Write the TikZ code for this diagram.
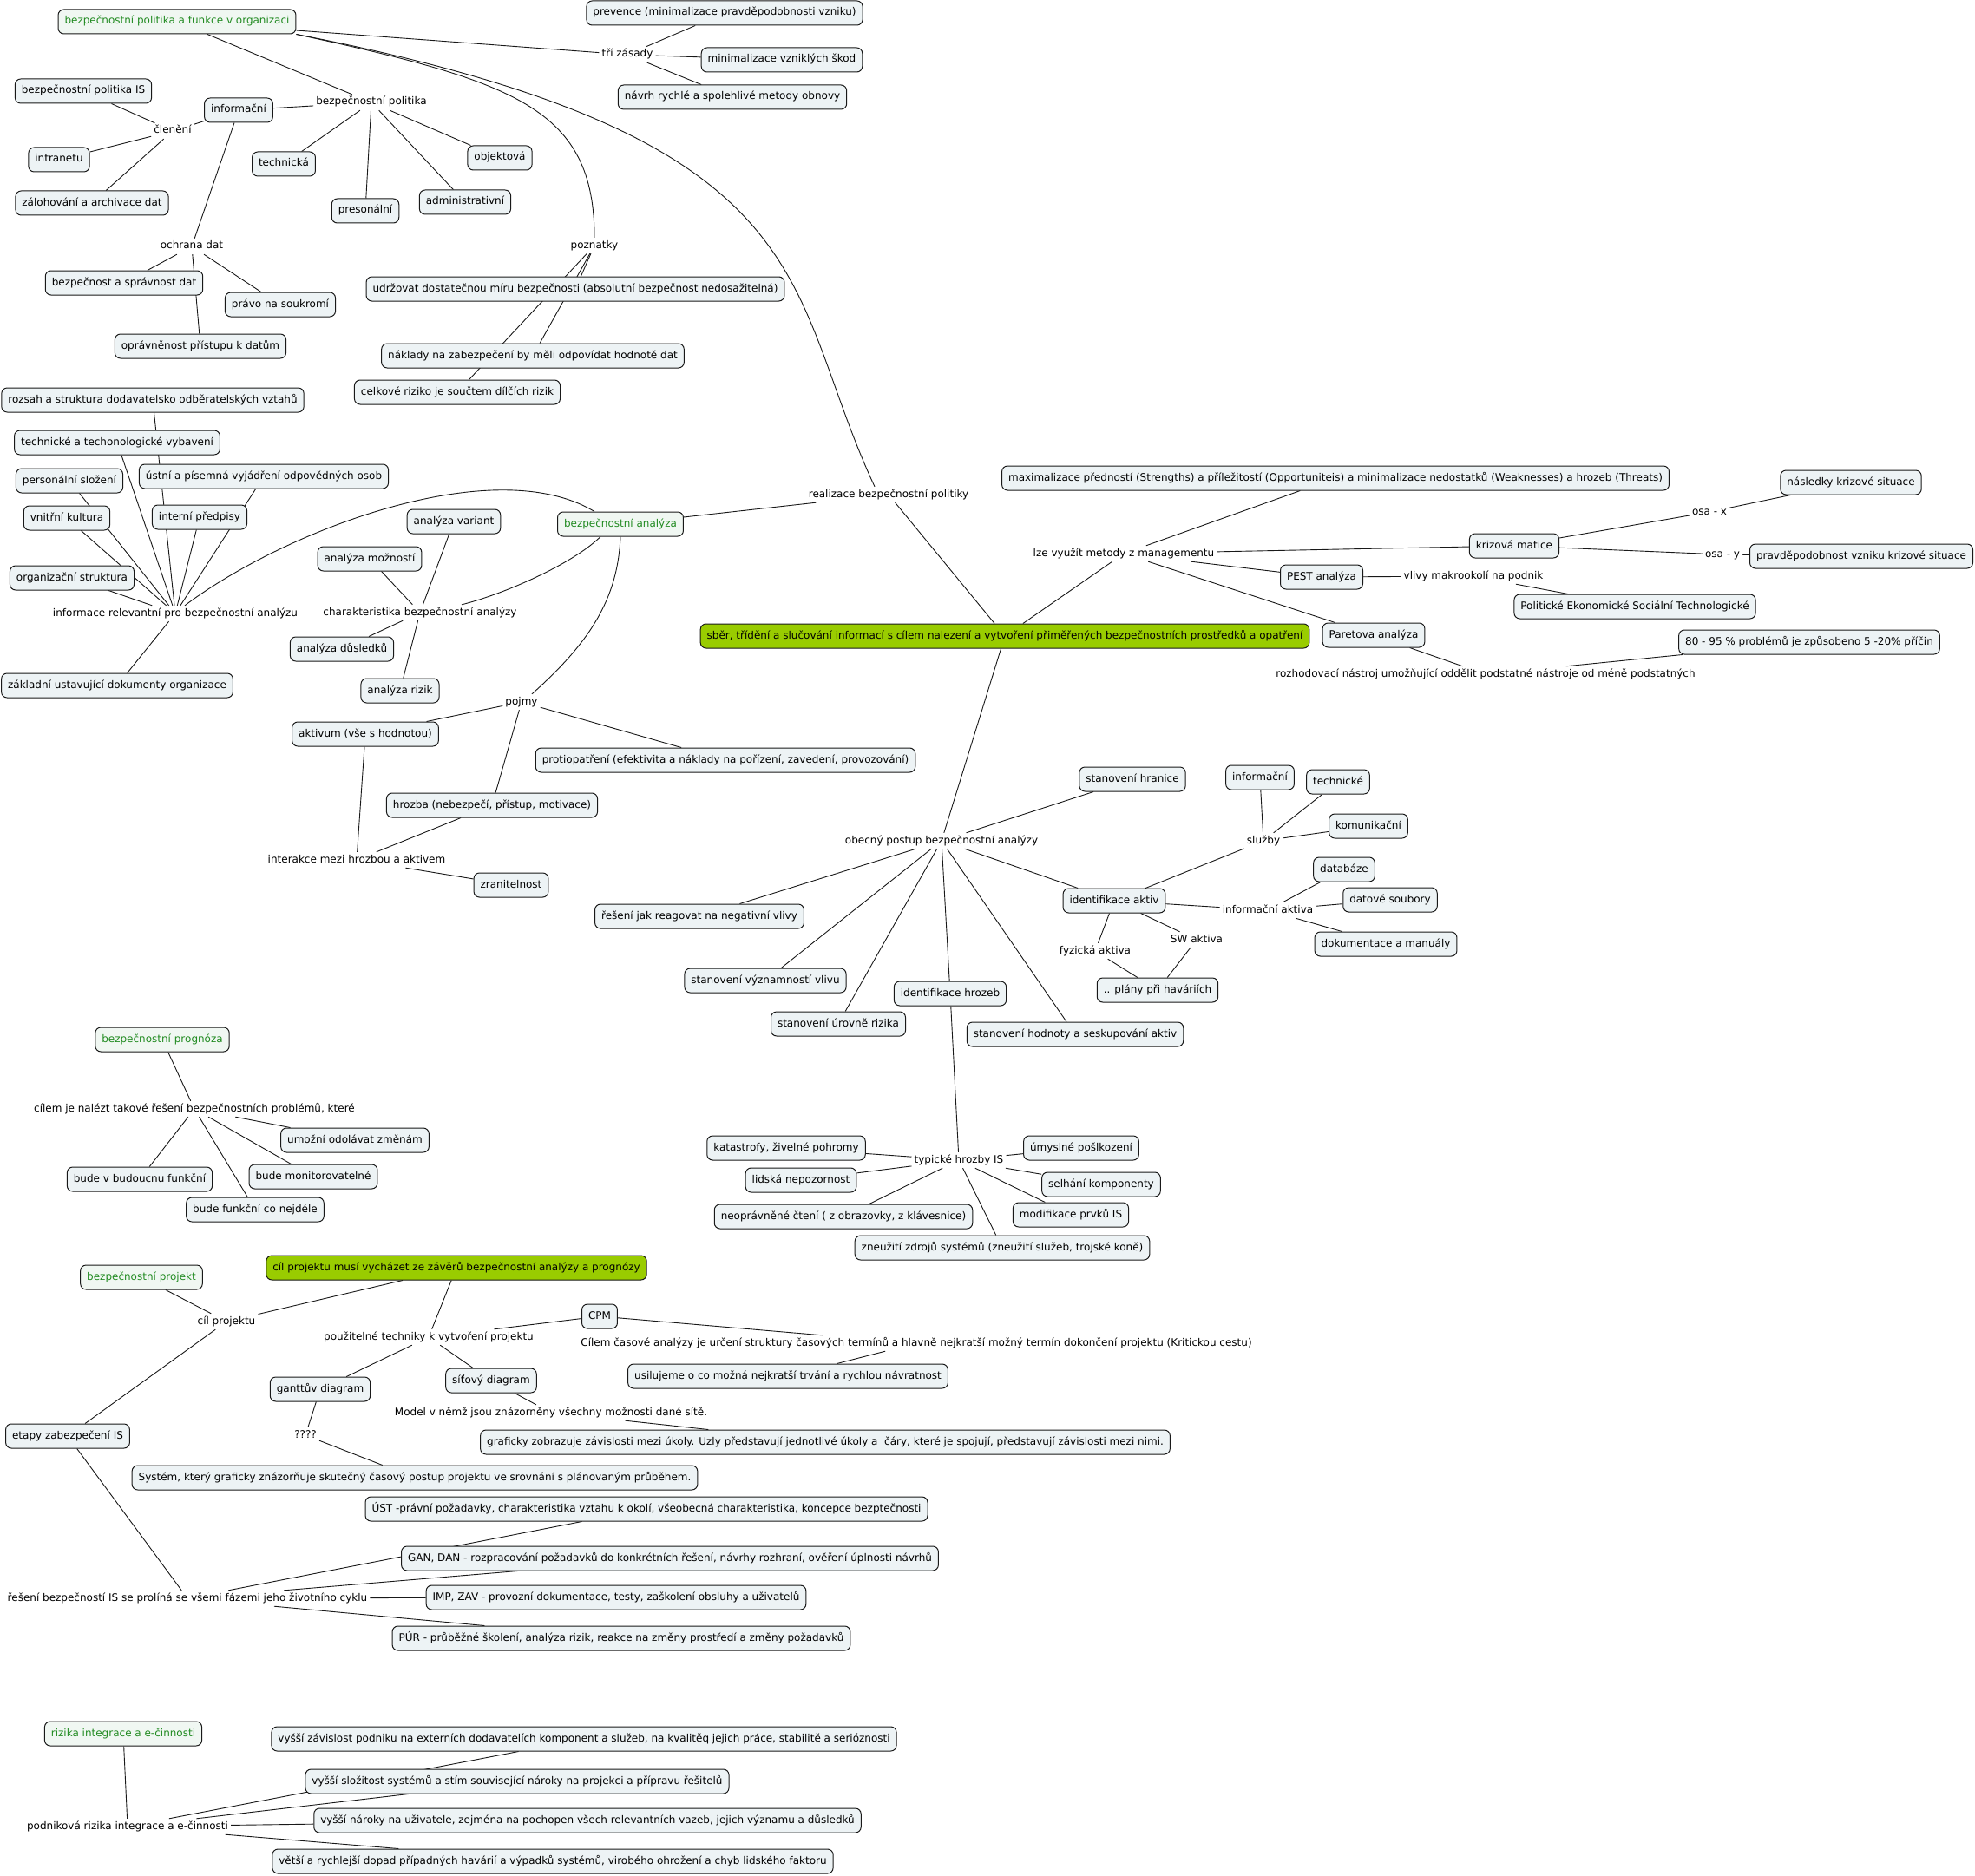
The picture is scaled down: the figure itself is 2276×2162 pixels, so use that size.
\documentclass[tikz,border=0pt]{standalone}
\usepackage{fontspec}
\setmainfont{DejaVu Sans}
\definecolor{boxfill}{RGB}{237,243,245}
\definecolor{rootfill}{RGB}{240,247,242}
\definecolor{rootgreen}{RGB}{34,139,34}
\definecolor{keygreen}{RGB}{153,204,0}
\definecolor{edgec}{RGB}{25,25,25}
\pgfdeclarelayer{bg}
\pgfsetlayers{bg,main}
\begin{document}
\begin{tikzpicture}[x=1pt,y=-1pt,
  every node/.style={font=\fontsize{12}{14}\selectfont, text height=9pt, text depth=3pt},
  box/.style={draw=edgec, line width=1pt, rounded corners=6.5pt, fill=boxfill, inner xsep=7.5pt, inner ysep=0pt, minimum height=28pt},
  rootbox/.style={box, fill=rootfill, text=rootgreen},
  keybox/.style={box, fill=keygreen},
  lbl/.style={inner xsep=3pt, inner ysep=3pt},
  conn/.style={draw=edgec, line width=0.9pt}]
\useasboundingbox (0,0) rectangle (2276,2162);

% ---------- cluster: bezpečnostní politika ----------
\node[rootbox] (root1) at (204,25) {bezpečnostní politika a funkce v organizaci};
\node[box] (polIS) at (96,105) {bezpečnostní politika IS};
\node[box] (info1) at (275,127) {informační};
\node[lbl] (bpol) at (428,118) {bezpečnostní politika};
\node[lbl] (clen) at (199,151) {členění};
\node[box] (intra) at (68,184) {intranetu};
\node[box] (zalo) at (106,234) {zálohování a archivace dat};
\node[box] (techn) at (327,189) {technická};
\node[box] (pres) at (421,243) {presonální};
\node[box] (admin) at (536,233) {administrativní};
\node[box] (objek) at (576,182) {objektová};
\node[lbl] (ochr) at (221,284) {ochrana dat};
\node[box] (bsprav) at (143,326) {bezpečnost a správnost dat};
\node[box] (pravo) at (323,351) {právo na soukromí};
\node[box] (oprav) at (231,399) {oprávněnost přístupu k datům};
\node[lbl] (pozn) at (685,283) {poznatky};
\node[box] (udrz) at (663,333) {udržovat dostatečnou míru bezpečnosti (absolutní bezpečnost nedosažitelná)};
\node[box] (nakl) at (614,410) {náklady na zabezpečení by měli odpovídat hodnotě dat};
\node[box] (celk) at (527,452) {celkové riziko je součtem dílčích rizik};
\node[box] (prev) at (835,15) {prevence (minimalizace pravděpodobnosti vzniku)};
\node[lbl] (tri) at (723,63) {tří zásady};
\node[box] (minim) at (901,69) {minimalizace vzniklých škod};
\node[box] (navrh) at (844,112) {návrh rychlé a spolehlivé metody obnovy};

% ---------- cluster: bezpečnostní analýza ----------
\node[box] (rozsah) at (176,461) {rozsah a struktura dodavatelsko odběratelských vztahů};
\node[box] (techvyb) at (135,510) {technické a techonologické vybavení};
\node[box] (perso) at (80,554) {personální složení};
\node[box] (ustni) at (304,549) {ústní a písemná vyjádření odpovědných osob};
\node[box] (vnitr) at (77,597) {vnitřní kultura};
\node[box] (intpred) at (230,596) {interní předpisy};
\node[box] (orgstr) at (83,666) {organizační struktura};
\node[lbl] (infrel) at (202,707) {informace relevantní pro bezpečnostní analýzu};
\node[box] (zaklad) at (135,790) {základní ustavující dokumenty organizace};
\node[lbl] (charak) at (484,706) {charakteristika bezpečnostní analýzy};
\node[box] (anvar) at (523,601) {analýza variant};
\node[box] (anmoz) at (426,644) {analýza možností};
\node[box] (andus) at (394,748) {analýza důsledků};
\node[box] (anriz) at (461,796) {analýza rizik};
\node[rootbox] (banal) at (715,604) {bezpečnostní analýza};
\node[lbl] (realiz) at (1024,570) {realizace bezpečnostní politiky};
\node[lbl] (pojmy) at (601,809) {pojmy};
\node[box] (aktiv) at (421,846) {aktivum (vše s hodnotou)};
\node[box] (protio) at (836,876) {protiopatření (efektivita a náklady na pořízení, zavedení, provozování)};
\node[box] (hrozba) at (567,928) {hrozba (nebezpečí, přístup, motivace)};
\node[lbl] (interakce) at (411,991) {interakce mezi hrozbou a aktivem};
\node[box] (zranit) at (589,1020) {zranitelnost};

% ---------- cluster: management ----------
\node[box] (maxim) at (1539,551) {maximalizace předností (Strengths) a příležitostí (Opportuniteis) a minimalizace nedostatků (Weaknesses) a hrozeb (Threats)};
\node[lbl] (lze) at (1295,638) {lze využít metody z managementu};
\node[keybox] (sber) at (1158,733) {sběr, třídění a slučování informací s cílem nalezení a vytvoření přiměřených bezpečnostních prostředků a opatření};
\node[box] (krize) at (1745,629) {krizová matice};
\node[lbl] (osax) at (1970,590) {osa - x};
\node[box] (nasl) at (2133,556) {následky krizové situace};
\node[lbl] (osay) at (1985,639) {osa - y};
\node[box] (pravd) at (2145,641) {pravděpodobnost vzniku krizové situace};
\node[box] (pest) at (1523,665) {PEST analýza};
\node[lbl] (vlivy) at (1698,664) {vlivy makrookolí na podnik};
\node[box] (polit) at (1884,699) {Politické Ekonomické Sociální Technologické};
\node[box] (pareto) at (1583,732) {Paretova analýza};
\node[box] (p8095) at (2085,740) {80 - 95 \% problémů je způsobeno 5 -20\% příčin};
\node[lbl] (rozhod) at (1712,777) {rozhodovací nástroj umožňující oddělit podstatné nástroje od méně podstatných};

% ---------- cluster: obecný postup ----------
\node[lbl] (obecny) at (1085,969) {obecný postup bezpečnostní analýzy};
\node[box] (hranice) at (1305,898) {stanovení hranice};
\node[box] (resjak) at (806,1056) {řešení jak reagovat na negativní vlivy};
\node[box] (vyznam) at (882,1130) {stanovení významností vlivu};
\node[box] (uroven) at (966,1180) {stanovení úrovně rizika};
\node[box] (idhroz) at (1095,1145) {identifikace hrozeb};
\node[box] (hodnot) at (1239,1192) {stanovení hodnoty a seskupování aktiv};
\node[box] (idakt) at (1284,1038) {identifikace aktiv};
\node[lbl] (sluzby) at (1456,969) {služby};
\node[box] (info2) at (1452,896) {informační};
\node[box] (techne) at (1542,901) {technické};
\node[box] (komun) at (1577,952) {komunikační};
\node[lbl] (infakt) at (1461,1049) {informační aktiva};
\node[box] (datab) at (1549,1002) {databáze};
\node[box] (datsoub) at (1602,1037) {datové soubory};
\node[box] (dokum) at (1597,1088) {dokumentace a manuály};
\node[lbl] (fyz) at (1262,1096) {fyzická aktiva};
\node[lbl] (swak) at (1379,1083) {SW aktiva};
\node[box] (plany) at (1334,1141) {.. plány při haváriích};
\node[lbl] (typ) at (1105,1337) {typické hrozby IS};
\node[box] (katast) at (906,1323) {katastrofy, živelné pohromy};
\node[box] (lidska) at (923,1360) {lidská nepozornost};
\node[box] (neopr) at (972,1402) {neoprávněné čtení ( z obrazovky, z klávesnice)};
\node[box] (zneuz) at (1155,1438) {zneužití zdrojů systémů (zneužití služeb, trojské koně)};
\node[box] (umysl) at (1246,1323) {úmyslné pošlkození};
\node[box] (selh) at (1269,1365) {selhání komponenty};
\node[box] (modif) at (1234,1400) {modifikace prvků IS};

% ---------- cluster: prognóza ----------
\node[rootbox] (progn) at (187,1198) {bezpečnostní prognóza};
\node[lbl] (cilem) at (224,1278) {cílem je nalézt takové řešení bezpečnostních problémů, které};
\node[box] (umozni) at (409,1314) {umožní odolávat změnám};
\node[box] (budouc) at (161,1359) {bude v budoucnu funkční};
\node[box] (monit) at (361,1356) {bude monitorovatelné};
\node[box] (nejdele) at (294,1394) {bude funkční co nejdéle};

% ---------- cluster: projekt ----------
\node[rootbox] (bproj) at (163,1472) {bezpečnostní projekt};
\node[keybox] (cilgreen) at (526,1461) {cíl projektu musí vycházet ze závěrů bezpečnostní analýzy a prognózy};
\node[lbl] (cilp) at (261,1523) {cíl projektu};
\node[lbl] (pouzit) at (494,1541) {použitelné techniky k vytvoření projektu};
\node[box] (cpm) at (691,1517) {CPM};
\node[lbl] (cilcas) at (1056,1548) {Cílem časové analýzy je určení struktury časových termínů a hlavně nejkratší možný termín dokončení projektu (Kritickou cestu)};
\node[box] (usil) at (908,1586) {usilujeme o co možná nejkratší trvání a rychlou návratnost};
\node[box] (gantt) at (369,1601) {ganttův diagram};
\node[box] (sitovy) at (566,1591) {síťový diagram};
\node[lbl] (otazky) at (352,1654) {????};
\node[box] (etapy) at (78,1655) {etapy zabezpečení IS};
\node[lbl] (model) at (635,1628) {Model v němž jsou znázorněny všechny možnosti dané sítě.};
\node[box] (graf) at (951,1662) {graficky zobrazuje závislosti mezi úkoly. Uzly představují jednotlivé úkoly a\ \ čáry, které je spojují, představují závislosti mezi nimi.};
\node[box] (system) at (478,1703) {Systém, který graficky znázorňuje skutečný časový postup projektu ve srovnání s plánovaným průběhem.};
\node[box] (ust) at (745,1739) {ÚST -právní požadavky, charakteristika vztahu k okolí, všeobecná charakteristika, koncepce bezptečnosti};
\node[box] (gan) at (772,1796) {GAN, DAN - rozpracování požadavků do konkrétních řešení, návrhy rozhraní, ověření úplnosti návrhů};
\node[box] (imp) at (710,1841) {IMP, ZAV - provozní dokumentace, testy, zaškolení obsluhy a uživatelů};
\node[box] (pur) at (716,1888) {PÚR - průběžné školení, analýza rizik, reakce na změny prostředí a změny požadavků};
\node[lbl] (reseni) at (216,1842) {řešení bezpečností IS se prolíná se všemi fázemi jeho životního cyklu};

% ---------- cluster: rizika ----------
\node[rootbox] (rizika) at (142,1998) {rizika integrace a e-činnosti};
\node[lbl] (podnik) at (147,2105) {podniková rizika integrace a e-činnosti};
\node[box] (zavis) at (673,2004) {vyšší závislost podniku na externích dodavatelích komponent a služeb, na kvalitěq jejich práce, stabilitě a serióznosti};
\node[box] (slozit) at (596,2053) {vyšší složitost systémů a stím související nároky na projekci a přípravu řešitelů};
\node[box] (naroky) at (677,2098) {vyšší nároky na uživatele, zejména na pochopen všech relevantních vazeb, jejich významu a důsledků};
\node[box] (vetsi) at (637,2145) {větší a rychlejší dopad případných havárií a výpadků systémů, virobého ohrožení a chyb lidského faktoru};

\begin{pgfonlayer}{bg}
\fill[white] (0,0) rectangle (2276,2162);
% curves
\draw[conn] (root1.south east) .. controls (594,94) and (685,125) .. (pozn.north);
\draw[conn] (root1.south east) .. controls (960,160) and (900,330) .. ([xshift=-16pt]realiz.north);
\draw[conn] ([xshift=-30pt]banal.north) .. controls (570,520) and (330,610) .. ([xshift=11pt]infrel.north);
\draw[conn] ([xshift=-23pt]banal.south) .. controls (660,650) and (580,685) .. ([xshift=48pt]charak.north);
\draw[conn] (banal.south) .. controls (712,690) and (680,740) .. ([xshift=12pt]pojmy.north);
% straight connectors
\foreach \a/\b in {root1/bpol, root1/tri, tri/prev, tri/minim, tri/navrh,
  bpol/info1, bpol/techn, bpol/pres, bpol/admin, bpol/objek,
  info1/clen, clen/polIS, clen/intra, clen/zalo, info1/ochr,
  ochr/bsprav, ochr/pravo, ochr/oprav, pozn/udrz, pozn/nakl, pozn/celk,
  realiz/banal, realiz/sber,
  charak/anvar, charak/anmoz, charak/andus, charak/anriz,
  infrel/rozsah, infrel/techvyb, infrel/ustni, infrel/intpred, infrel/perso,
  infrel/vnitr, infrel/orgstr, infrel/zaklad,
  pojmy/aktiv, pojmy/protio, pojmy/hrozba, aktiv/interakce, hrozba/interakce, interakce/zranit,
  sber/lze, sber/obecny, lze/maxim, lze/krize, lze/pest, lze/pareto,
  krize/osax, osax/nasl, krize/osay, osay/pravd, pest/vlivy, vlivy/polit,
  pareto/rozhod, rozhod/p8095,
  obecny/hranice, obecny/resjak, obecny/vyznam, obecny/uroven, obecny/idhroz,
  obecny/hodnot, obecny/idakt, idakt/sluzby, sluzby/info2, sluzby/techne, sluzby/komun,
  idakt/infakt, infakt/datab, infakt/datsoub, infakt/dokum, idakt/fyz, idakt/swak,
  fyz/plany, swak/plany, idhroz/typ, typ/katast, typ/lidska, typ/neopr, typ/zneuz,
  typ/umysl, typ/selh, typ/modif,
  progn/cilem, cilem/umozni, cilem/budouc, cilem/monit, cilem/nejdele,
  bproj/cilp, cilp/cilgreen, cilp/etapy, cilgreen/pouzit, pouzit/cpm, pouzit/gantt,
  pouzit/sitovy, cpm/cilcas, cilcas/usil, sitovy/model, model/graf, gantt/otazky,
  otazky/system, etapy/reseni, reseni/ust, reseni/gan, reseni/imp, reseni/pur,
  rizika/podnik, podnik/zavis, podnik/slozit, podnik/naroky, podnik/vetsi}
  {\draw[conn] (\a) -- (\b);}
\end{pgfonlayer}
\end{tikzpicture}
\end{document}
